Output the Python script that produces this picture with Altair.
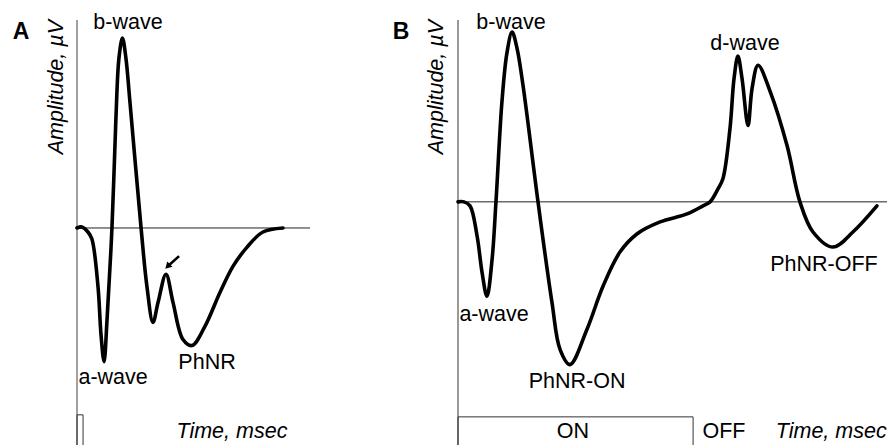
import altair as alt
import pandas as pd

# ---------------------------------------------------------------
# Panel A: brief-flash photopic ERG (time in ms, amplitude in uV)
# ---------------------------------------------------------------
a_time = [0.0, 2.1, 4.7, 6.4, 9.0, 10.3, 11.6, 12.9, 15.0, 16.7, 18.0, 19.5,
          21.0, 22.7, 27.5, 30.0, 32.6, 34.8, 38.2, 41.2, 45.5, 49.4, 54.9,
          61.4, 67.0, 73.0, 79.8, 88.4]
a_amp = [0.0, 0.5, -2.0, -5.5, -29.0, -53.0, -66.5, -45.5, 0.0, 54.5, 84.5,
         94.5, 84.5, 63.0, 0.0, -29.0, -47.0, -37.0, -23.0, -37.0, -55.5,
         -58.5, -49.0, -32.0, -19.0, -9.5, -2.0, 0.0]

# stimulus trace under panel A (short flash)
a_stim_time = [0.0, 0.0, 2.6, 2.6]
a_stim_level = [-108.0, -93.0, -93.0, -108.0]

# arrow pointing at the i-wave
a_arrow_time = [43.8, 39.2]
a_arrow_amp = [-14.0, -18.8]

a_labels = ["b-wave", "a-wave", "PhNR"]
a_label_time = [21.9, 15.5, 55.8]
a_label_amp = [99.0, -77.5, -70.0]

a_axis_title_time = 66.5

# ---------------------------------------------------------------
# Panel B: long-duration ON/OFF ERG
# ---------------------------------------------------------------
b_time = [0.0, 2.8, 5.6, 8.9, 11.2, 13.5, 15.9, 17.7, 20.5, 22.8, 25.2, 27.5,
          30.3, 37.3, 43.8, 47.6, 52.2, 60.1, 67.6, 75.5, 83.4, 94.2, 106.8,
          114.2, 117.5, 121.2, 123.5, 126.8, 128.7, 130.5, 132.4, 135.2,
          137.1, 139.9, 145.5, 153.4, 159.4, 165.5, 174.8, 184.1, 195.3]
b_amp = [0.0, 0.0, -2.0, -17.0, -35.0, -47.0, -28.5, 0.0, 50.0, 74.0, 84.5,
         76.5, 58.0, 0.0, -50.0, -73.5, -81.0, -63.5, -42.0, -25.0, -16.0,
         -10.0, -6.0, -2.0, 0.0, 6.5, 11.5, 36.5, 61.5, 72.5, 61.5, 38.0,
         56.5, 68.0, 55.0, 28.0, 0.0, -15.0, -22.5, -15.0, -2.0]

# stimulus trace under panel B (ON period, then OFF)
b_stim_time = [0.0, 0.0, 109.6, 109.6]
b_stim_level = [-121.0, -107.0, -107.0, -121.0]

b_labels = ["b-wave", "d-wave", "a-wave", "PhNR-ON", "PhNR-OFF", "ON", "OFF"]
b_label_time = [24.7, 133.8, 16.8, 55.5, 170.6, 53.6, 124.0]
b_label_amp = [86.0, 75.5, -59.5, -92.5, -34.5, -117.5, -117.5]

b_axis_title_time = 174.0

W, H = 887, 445
FONT = "Liberation Sans"
LABEL_SIZE = 21.5


def panel(letter, letter_x, title_x, t_dom, x_rng, y_dom,
          time, amp, stim_t, stim_v, labels, lab_t, lab_v, xtitle_t,
          axis_color, axis_width, arrow=None):
    xs = alt.Scale(domain=t_dom, range=x_rng, nice=False, zero=False)
    ys = alt.Scale(domain=y_dom, range=[H, 20], nice=False, zero=False)

    def X(f):
        return alt.X(f, type="quantitative", scale=xs, axis=None)

    def Y(f):
        return alt.Y(f, type="quantitative", scale=ys, axis=None)

    axis_df = pd.DataFrame({"t": [t_dom[0]], "lo": [y_dom[0]], "hi": [y_dom[1]]})
    base_df = pd.DataFrame({"t0": [t_dom[0]], "t1": [t_dom[1]], "v": [0.0]})
    curve_df = pd.DataFrame({"t": time, "v": amp})
    stim_df = pd.DataFrame({"t": stim_t, "v": stim_v, "i": list(range(len(stim_t)))})
    lab_df = pd.DataFrame({"t": lab_t, "v": lab_v, "txt": labels})
    xtitle_df = pd.DataFrame({"t": [xtitle_t], "v": [y_dom[0]],
                              "txt": ["Time, msec"]})

    layers = [
        alt.Chart(axis_df).mark_rule(color=axis_color, strokeWidth=axis_width)
        .encode(x=X("t"), y=Y("lo"), y2="hi"),
        alt.Chart(base_df).mark_rule(color="#222222", strokeWidth=1)
        .encode(x=X("t0"), x2="t1", y=Y("v")),
        alt.Chart(stim_df).mark_line(color="#333333", strokeWidth=1)
        .encode(x=X("t"), y=Y("v"), order="i:Q"),
        alt.Chart(curve_df).mark_line(color="black", strokeWidth=3.6,
                                      interpolate="catmull-rom",
                                      strokeCap="round", strokeJoin="round")
        .encode(x=X("t"), y=Y("v")),
        alt.Chart(lab_df).mark_text(font=FONT, fontSize=LABEL_SIZE,
                                    color="black", align="center",
                                    baseline="alphabetic")
        .encode(x=X("t"), y=Y("v"), text="txt:N"),
        alt.Chart(xtitle_df).mark_text(font=FONT, fontSize=LABEL_SIZE,
                                       fontStyle="italic", color="black",
                                       align="center", baseline="alphabetic",
                                       dy=-7)
        .encode(x=X("t"), y=Y("v"), text="txt:N"),
        alt.Chart(pd.DataFrame({"s": [letter]})).mark_text(
            font=FONT, fontSize=23, fontWeight="bold", color="black",
            align="center", baseline="alphabetic")
        .encode(x=alt.value(letter_x), y=alt.value(39), text="s:N"),
        alt.Chart(pd.DataFrame({"s": ["Amplitude, \u00b5V"]})).mark_text(
            font=FONT, fontSize=21.5, fontStyle="italic", color="black",
            angle=270, align="right", baseline="middle")
        .encode(x=alt.value(title_x), y=alt.value(20), text="s:N"),
    ]

    if arrow is not None:
        at, av = arrow
        arr_df = pd.DataFrame({"t": at, "v": av})
        layers.append(
            alt.Chart(arr_df).mark_line(color="black", strokeWidth=2.6)
            .encode(x=X("t"), y=Y("v"))
        )
        tip_df = pd.DataFrame({"t": [at[-1]], "v": [av[-1]]})
        layers.append(
            alt.Chart(tip_df).mark_point(shape="triangle", filled=True,
                                         color="black", opacity=1,
                                         size=55, angle=225)
            .encode(x=X("t"), y=Y("v"))
        )

    return alt.layer(*layers)


panel_a = panel("A", 21, 57, [0, 100], [77, 310], [-108, 103.5],
                a_time, a_amp, a_stim_time, a_stim_level,
                a_labels, a_label_time, a_label_amp, a_axis_title_time,
                axis_color="#a0a0a0", axis_width=2,
                arrow=(a_arrow_time, a_arrow_amp))

panel_b = panel("B", 401, 437, [0, 200], [458, 887], [-121, 90.5],
                b_time, b_amp, b_stim_time, b_stim_level,
                b_labels, b_label_time, b_label_amp, b_axis_title_time,
                axis_color="#555555", axis_width=1.2)

chart = (
    alt.layer(panel_a, panel_b)
    .resolve_scale(x="independent", y="independent")
    .properties(width=W, height=H, autosize=alt.AutoSizeParams(type="none"),
                padding=0, background="white")
    .configure_view(stroke=None)
)

chart.save("out.html", embed_options={"renderer": "svg", "actions": False})
